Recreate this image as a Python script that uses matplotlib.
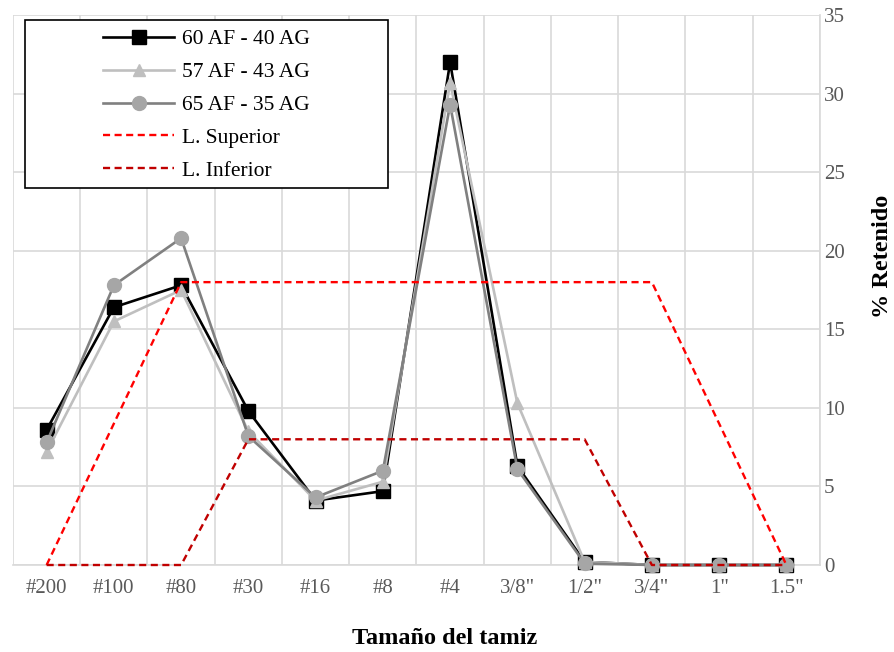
import matplotlib
matplotlib.use("Agg")
import matplotlib.pyplot as plt
from matplotlib.patches import Rectangle
import numpy as np

categories = ['#200', '#100', '#80', '#30', '#16', '#8', '#4', '3/8"', '1/2"', '3/4"', '1"', '1.5"']
s60_40 = [8.6, 16.4, 17.8, 9.8, 4.1, 4.7, 32.0, 6.3, 0.2, 0.0, 0.0, 0.0]
s57_43 = [7.2, 15.5, 17.5, 8.5, 4.1, 5.3, 30.7, 10.3, 0.2, 0.0, 0.0, 0.0]
s65_35 = [7.8, 17.8, 20.8, 8.2, 4.3, 6.0, 29.3, 6.1, 0.1, 0.0, 0.0, 0.0]
lim_sup = [0, 9, 18, 18, 18, 18, 18, 18, 18, 18, 9, 0]
lim_inf = [0, 0, 0, 8, 8, 8, 8, 8, 8, 0, 0, 0]

plt.rcParams['font.family'] = ['Liberation Serif', 'DejaVu Serif']

W, H = 895, 652
fig = plt.figure(figsize=(W / 100, H / 100), dpi=100)
ax = fig.add_axes([13 / W, 1 - 565 / H, 807 / W, 550 / H])
x = np.arange(len(categories))

common = dict(zorder=3, clip_on=False)
ax.plot(x, s60_40, color='black', lw=1.9, marker='s', ms=9.5, mfc='black', mec='black',
        label='60 AF - 40 AG', **common)
ax.plot(x, s57_43, color='#BFBFBF', lw=1.9, marker='^', ms=9, mfc='#BFBFBF', mec='#BFBFBF',
        label='57 AF - 43 AG', **common)
ax.plot(x, s65_35, color='#808080', lw=1.9, marker='o', ms=10, mfc='#A6A6A6', mec='#A6A6A6',
        label='65 AF - 35 AG', **common)
ax.plot(x, lim_sup, color='#FF0000', lw=1.7, ls=(0, (3, 1.9)), label='L. Superior', **common)
ax.plot(x, lim_inf, color='#C00000', lw=1.7, ls=(0, (3, 1.9)), label='L. Inferior', **common)

ax.set_xlim(-0.5, len(categories) - 0.5)
ax.set_ylim(0, 35)
ax.set_xticks(x)
ax.set_xticklabels(categories)
ax.set_xticks(np.arange(-0.5, len(categories), 1.0), minor=True)
ax.set_yticks(np.arange(0, 36, 5))
ax.yaxis.tick_right()
ax.yaxis.set_label_position('right')

ax.grid(True, axis='y', which='major', color='#D9D9D9', lw=1.2)
ax.grid(True, axis='x', which='minor', color='#D9D9D9', lw=1.2)
ax.grid(False, axis='x', which='major')
ax.set_axisbelow(True)

for sp in ['top', 'left']:
    ax.spines[sp].set_visible(False)
for sp in ['right', 'bottom']:
    ax.spines[sp].set_color('#D9D9D9')
    ax.spines[sp].set_linewidth(1.2)
    ax.spines[sp].set_zorder(1)

ax.tick_params(axis='both', which='both', length=0, labelsize=15, labelcolor='#595959')
ax.tick_params(axis='x', pad=10)
ax.tick_params(axis='y', pad=3)

ax.set_xlabel('Tamaño del tamiz', fontsize=17.5, fontweight='bold')
ax.xaxis.label.set_va('center')
ax.xaxis.set_label_coords(0.535, -0.133)
ax.set_ylabel('% Retenido', fontsize=17.5, fontweight='bold')
ax.yaxis.label.set_va('center')
ax.yaxis.label.set_ha('center')
ax.yaxis.set_label_coords((883 - 13) / 807, 0.562)

# legend box (Excel style, content centred in a wide frame)
box = Rectangle((25 / W, 1 - 188 / H), 363 / W, 168 / H, transform=fig.transFigure,
                facecolor='white', edgecolor='black', lw=1.2, zorder=4)
fig.patches.append(box)
handles, labels = ax.get_legend_handles_labels()
leg = fig.legend(handles, labels, loc='upper left', bbox_to_anchor=(103 / W, 1 - 29 / H),
                 bbox_transform=fig.transFigure, fontsize=15.5, frameon=False,
                 handlelength=3.3, borderpad=0, labelspacing=0.6, handletextpad=0.35,
                 borderaxespad=0)
leg.set_zorder(6)

fig.savefig('out.png', dpi=100)
